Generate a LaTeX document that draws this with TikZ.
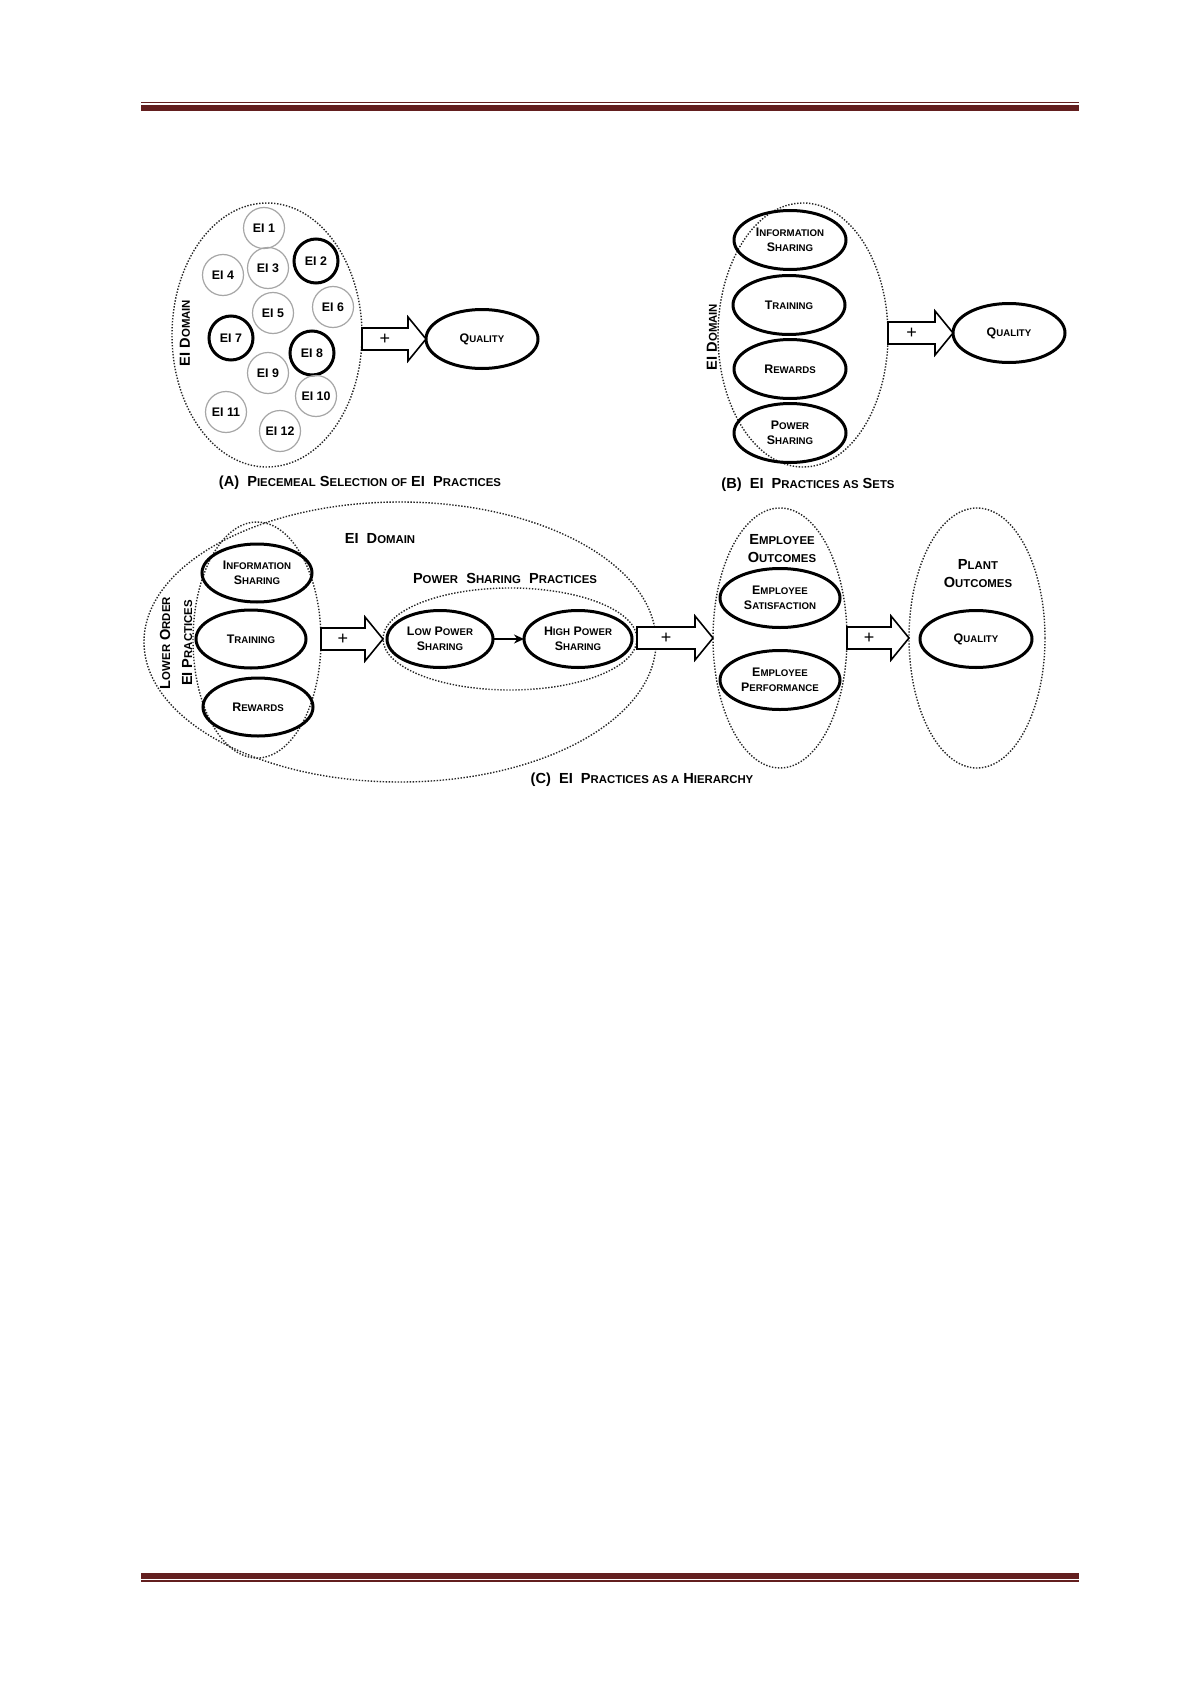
\documentclass[tikz,border=0pt]{standalone}
\usepackage{fontspec}
\setmainfont{Liberation Sans}
\usetikzlibrary{shapes.geometric,calc,arrows.meta}
\makeatletter
\newcommand\ssc[1]{{\fontsize{\fpeval{0.78*\f@size}}{\f@baselineskip}\selectfont #1}}
\makeatother
\definecolor{hdr}{RGB}{99,31,31}
\newcommand\blockarrow[3]{%
  \path (#2) ++(-18,0) coordinate (#3h);
  \draw[blk] ($(#1)+(0,-11)$) -- ($(#3h)+(0,-11)$) -- ($(#3h)+(0,-22)$) -- (#2)
     -- ($(#3h)+(0,22)$) -- ($(#3h)+(0,11)$) -- ($(#1)+(0,11)$) -- cycle;
  \node[plus] (#3) at ($(#1)!0.5!(#3h)$) {+};
}
\begin{document}
\begin{tikzpicture}[x=0.5pt,y=-0.5pt,
  every node/.style={font=\bfseries\fontsize{6.2}{7.5}\selectfont, inner sep=0pt, outer sep=0pt, align=center},
  ell/.style={ellipse, draw, line width=1.5pt},
  dom/.style={ellipse, draw=black!85, line width=0.7pt, dash pattern=on 0.7pt off 0.8pt},
  thinc/.style={circle, draw=black!35, line width=0.6pt, minimum size=20.5pt},
  thickc/.style={circle, draw, line width=1.5pt, minimum size=22pt},
  lab/.style={font=\bfseries\fontsize{7.3}{9}\selectfont},
  plus/.style={font=\fontsize{9}{9}\selectfont},
  blk/.style={draw, fill=white, line width=0.8pt, line join=miter},
  smallarr/.style={-{Stealth[length=5pt,width=4.5pt]}, line width=0.8pt}
]
\useasboundingbox (0,0) rectangle (1192,1685);
\fill[white] (0,0) rectangle (1192,1685);
% page rules
\fill[hdr] (141,102) rectangle (1079,103);
\fill[hdr] (141,105) rectangle (1079,111);
\fill[hdr] (141,1573) rectangle (1079,1579);
\fill[hdr] (141,1580.3) rectangle (1079,1581.7);

% ---------------- (A)
\node[dom, minimum width=95pt, minimum height=132pt] (domA) at (267,335) {};
\node[lab, rotate=90] (ldomA) at (185,333) {EI D\ssc{OMAIN}};
\node[thinc] (e1) at (264,228) {EI 1};
\node[thickc] (e2) at (316,261) {EI 2};
\node[thinc] (e3) at (268,268) {EI 3};
\node[thinc] (e4) at (223,275) {EI 4};
\node[thinc] (e5) at (273,313) {EI 5};
\node[thinc] (e6) at (333,307) {EI 6};
\node[thickc] (e7) at (231,338) {EI 7};
\node[thickc] (e8) at (312,353) {EI 8};
\node[thinc] (e9) at (268,373) {EI 9};
\node[thinc] (e10) at (316,396) {EI 10};
\node[thinc] (e11) at (226,412) {EI 11};
\node[thinc] (e12) at (280,431) {EI 12};
\node[ell, minimum width=56pt, minimum height=29.5pt] (qA) at (482,339) {Q\ssc{UALITY}};
\coordinate (sA) at (domA.east |- qA.west);
\blockarrow{sA}{qA.west}{pA}
\node[lab] (capA) at (360,483) {(A)~~P\ssc{IECEMEAL} S\ssc{ELECTION} \ssc{OF} EI~~P\ssc{RACTICES}};

% ---------------- (B)
\node[dom, minimum width=85pt, minimum height=132pt] (domB) at (803,335) {};
\node[lab, rotate=90] (ldomB) at (712,337) {EI D\ssc{OMAIN}};
\node[ell, minimum width=56pt, minimum height=29.5pt] (iB) at (790,240) {I\ssc{NFORMATION}\\S\ssc{HARING}};
\node[ell, minimum width=56pt, minimum height=29.5pt] (tB) at (789,305) {T\ssc{RAINING}};
\node[ell, minimum width=56pt, minimum height=29.5pt] (rB) at (790,369) {R\ssc{EWARDS}};
\node[ell, minimum width=56pt, minimum height=29.5pt] (pB) at (790,433) {P\ssc{OWER}\\S\ssc{HARING}};
\node[ell, minimum width=56pt, minimum height=29.5pt] (qB) at (1009,333) {Q\ssc{UALITY}};
\coordinate (sB) at (domB.east |- qB.west);
\blockarrow{sB}{qB.west}{pB2}
\node[lab] (capB) at (808,485) {(B)~~EI~~P\ssc{RACTICES AS} S\ssc{ETS}};

% ---------------- (C)
\node[dom, minimum width=256pt, minimum height=140pt] (domC) at (400,642) {};
\node[dom, minimum width=64pt, minimum height=118pt] (lowC) at (257,640) {};
\node[dom, minimum width=127pt, minimum height=51pt] (psC) at (510,639) {};
\node[dom, minimum width=67pt, minimum height=130pt] (empC) at (780,638) {};
\node[dom, minimum width=68pt, minimum height=130pt] (plantC) at (977,638) {};
\node[lab] (ldomC) at (380,539) {EI~~D\ssc{OMAIN}};
\node[lab] (lpsC) at (505,578) {P\ssc{OWER}~~S\ssc{HARING}~~P\ssc{RACTICES}};
\node[lab, rotate=90, font=\bfseries\fontsize{7.3}{11}\selectfont] (llowC) at (176,643) {L\ssc{OWER} O\ssc{RDER}\\EI P\ssc{RACTICES}};
\node[lab] (lempC) at (782,549) {E\ssc{MPLOYEE}\\O\ssc{UTCOMES}};
\node[lab] (lplantC) at (978,574) {P\ssc{LANT}\\O\ssc{UTCOMES}};
\node[ell, minimum width=55pt, minimum height=29pt] (iC) at (257,573) {I\ssc{NFORMATION}\\S\ssc{HARING}};
\node[ell, minimum width=55pt, minimum height=29pt] (tC) at (251,639) {T\ssc{RAINING}};
\node[ell, minimum width=55pt, minimum height=29pt] (rC) at (258,707) {R\ssc{EWARDS}};
\node[ell, minimum width=53pt, minimum height=28.5pt] (lpC) at (440,639) {L\ssc{OW} P\ssc{OWER}\\S\ssc{HARING}};
\node[ell, minimum width=54pt, minimum height=28.5pt] (hpC) at (578,639) {H\ssc{IGH} P\ssc{OWER}\\S\ssc{HARING}};
\node[ell, minimum width=60pt, minimum height=29.5pt] (esC) at (780,598) {E\ssc{MPLOYEE}\\S\ssc{ATISFACTION}};
\node[ell, minimum width=60pt, minimum height=29.5pt] (epC) at (780,680) {E\ssc{MPLOYEE}\\P\ssc{ERFORMANCE}};
\node[ell, minimum width=56pt, minimum height=28.5pt] (qC) at (976,639) {Q\ssc{UALITY}};
\draw[smallarr] (lpC) -- (hpC);
\coordinate (sC1) at (lowC.east |- psC.west);
\blockarrow{sC1}{psC.west}{pC1}
\coordinate (sC2) at (psC.east |- empC.west);
\blockarrow{sC2}{empC.west}{pC2}
\coordinate (sC3) at (empC.east |- plantC.west);
\blockarrow{sC3}{plantC.west}{pC3}
\node[lab] (capC) at (642,780) {(C)~~EI~~P\ssc{RACTICES AS A} H\ssc{IERARCHY}};
\end{tikzpicture}
\end{document}
